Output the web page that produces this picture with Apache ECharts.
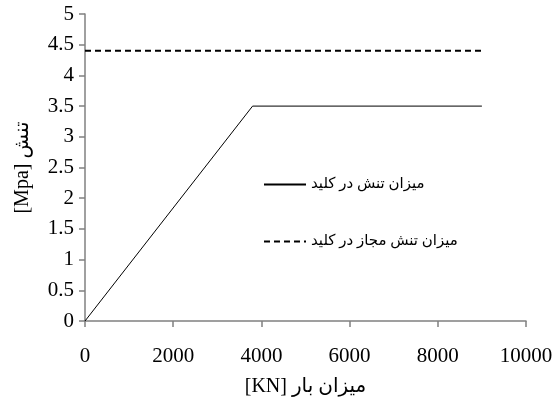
<!DOCTYPE html>
<html>
<head>
<meta charset="utf-8">
<script src="https://cdn.jsdelivr.net/npm/echarts@6/dist/echarts.min.js"></script>
<style>html,body{margin:0;padding:0;background:#fff}#c{width:560px;height:412px}</style>
</head>
<body>
<div id="c"></div>
<script>
const stressLoad = [0, 3800, 9000];
const stressValue = [0, 3.5, 3.5];
const allowLoad = [0, 9000];
const allowValue = [4.4, 4.4];
const seriesNames = ['میزان تنش در کلید', 'میزان تنش مجاز در کلید'];
const xName = '[KN] میزان بار';
const yName = '[Mpa] تنش';

const font = "'Liberation Serif', 'Times New Roman', 'DejaVu Sans', serif";
const chart = echarts.init(document.getElementById('c'), null, {renderer: 'canvas'});
const axisCommon = {
  axisLine: {show: true, lineStyle: {color: '#808080', width: 1.5}},
  axisTick: {show: true, inside: false, length: 6, lineStyle: {color: '#808080', width: 1.5}},
  splitLine: {show: false},
  axisLabel: {color: '#000', fontFamily: font, fontSize: 21, formatter: v => String(v)},
  nameTextStyle: {color: '#000', fontFamily: font, fontSize: 20}
};
chart.setOption({
  animation: false,
  backgroundColor: '#fff',
  grid: {left: 85, right: 34, top: 14, bottom: 91},
  legend: {
    orient: 'vertical', left: 258, top: 172, itemGap: 42,
    itemWidth: 42, itemHeight: 14, itemGap: 42,
    itemStyle: {opacity: 0},
    textStyle: {color: '#000', fontFamily: font, fontSize: 15},
    data: seriesNames
  },
  xAxis: Object.assign({}, axisCommon, {
    type: 'value', min: 0, max: 10000, interval: 2000,
    name: xName, nameLocation: 'middle', nameGap: 56,
    axisLabel: Object.assign({}, axisCommon.axisLabel, {margin: 25})
  }),
  yAxis: Object.assign({}, axisCommon, {
    type: 'value', min: 0, max: 5, interval: 0.5,
    name: yName, nameLocation: 'middle', nameGap: 52, nameRotate: 90,
    axisLabel: Object.assign({}, axisCommon.axisLabel, {margin: 11})
  }),
  series: [
    {
      name: seriesNames[0], type: 'line', showSymbol: false, symbol: 'none',
      data: stressLoad.map((x, i) => [x, stressValue[i]]),
      lineStyle: {color: '#000', width: 1, type: 'solid'},
      itemStyle: {color: '#000'}
    },
    {
      name: seriesNames[1], type: 'line', showSymbol: false, symbol: 'none',
      data: allowLoad.map((x, i) => [x, allowValue[i]]),
      lineStyle: {color: '#000', width: 2, type: [6, 4]},
      itemStyle: {color: '#000'}
    }
  ]
});
</script>
</body>
</html>
